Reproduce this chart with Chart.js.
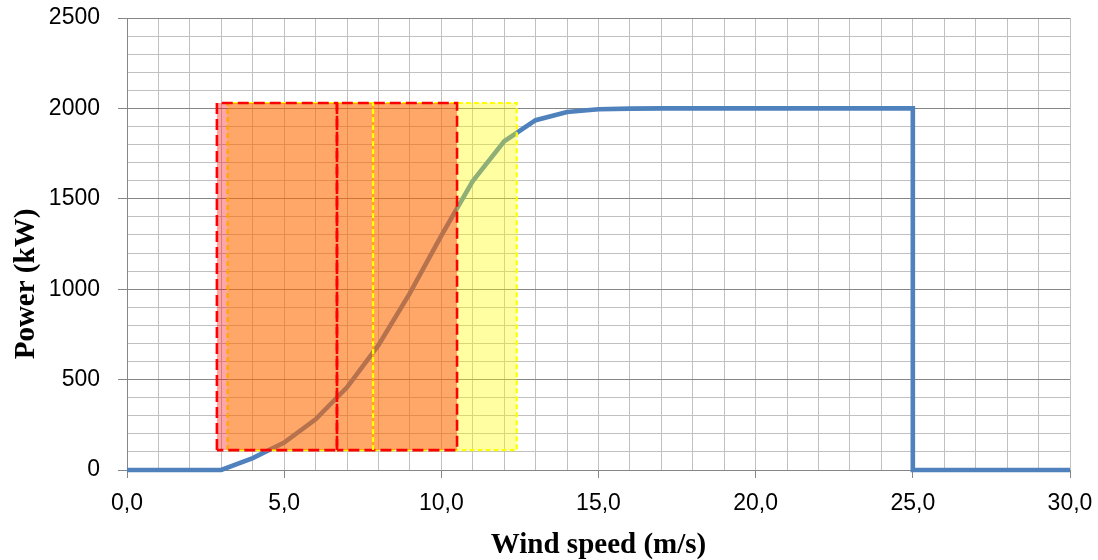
<!DOCTYPE html>
<html>
<head>
<meta charset="utf-8">
<script src="https://cdn.jsdelivr.net/npm/chart.js@4.4.1/dist/chart.umd.min.js"></script>
<style>
  html, body { margin: 0; padding: 0; background: #ffffff; }
  #wrap { width: 1098px; height: 560px; }
</style>
</head>
<body>
<div id="wrap"><canvas id="c" width="1098" height="560"></canvas></div>
<script>
// ---- data ----
const windSpeed = [0, 1, 2, 3, 4, 5, 6, 7, 8, 9, 10, 11, 12, 13, 14, 15, 16, 17, 18, 19, 20, 21, 22, 23, 24, 25, 25, 30];
const power     = [0, 0, 0, 0, 66, 152, 280, 457, 690, 978, 1296, 1598, 1818, 1935, 1980, 1995, 1999, 2000, 2000, 2000, 2000, 2000, 2000, 2000, 2000, 2000, 0, 0];

const redEdges    = [2.86, 6.68, 10.5];   // red dashed boxes (m/s)
const yellowEdges = [3.2, 7.83, 12.4];    // yellow dashed boxes (m/s)
const boxPower    = [110, 2030];          // bottom / top of boxes (kW)

const xTickLabels = ['0,0', '5,0', '10,0', '15,0', '20,0', '25,0', '30,0'];
const yTickLabels = ['0', '500', '1000', '1500', '2000', '2500'];
const xTitle = 'Wind speed (m/s)';
const yTitle = 'Power (kW)';

// ---- build datasets ----
function rect(x1, x2) {
  return [
    {x: x1, y: boxPower[0]}, {x: x1, y: boxPower[1]},
    {x: x2, y: boxPower[1]}, {x: x2, y: boxPower[0]},
    {x: x1, y: boxPower[0]}
  ];
}
const datasets = [];
datasets.push({
  label: 'Power curve',
  data: windSpeed.map((w, i) => ({x: w, y: power[i]})),
  borderColor: '#4f81bd', borderWidth: 4.6, pointRadius: 0, tension: 0,
  fill: false, showLine: true, order: 10, clip: false
});
for (let i = 0; i < yellowEdges.length - 1; i++) {
  datasets.push({
    label: 'yellow' + i,
    data: rect(yellowEdges[i], yellowEdges[i + 1]),
    borderColor: '#ffff00', borderWidth: 2.2, borderDash: [5, 3],
    backgroundColor: 'rgba(255,255,0,0.37)', fill: 'shape',
    pointRadius: 0, tension: 0, showLine: true, order: 8, clip: false
  });
}
for (let i = 0; i < redEdges.length - 1; i++) {
  datasets.push({
    label: 'red' + i,
    data: rect(redEdges[i], redEdges[i + 1]),
    borderColor: '#ff0000', borderWidth: 2.6, borderDash: [11, 5],
    backgroundColor: 'rgba(255,0,0,0.35)', fill: 'shape',
    pointRadius: 0, tension: 0, showLine: true, order: 5, clip: false
  });
}
// inner yellow dividers drawn on top
for (let i = 1; i < yellowEdges.length - 1; i++) {
  datasets.push({
    label: 'ydiv' + i,
    data: [{x: yellowEdges[i], y: boxPower[0]}, {x: yellowEdges[i], y: boxPower[1]}],
    borderColor: '#ffff00', borderWidth: 2.2, borderDash: [5, 3],
    fill: false, pointRadius: 0, showLine: true, order: 1, clip: false
  });
}

const DARK = '#868686', LIGHT = '#c0c0c0';
const fmtX = v => (v % 5 === 0) ? xTickLabels[v / 5] : '';
const fmtY = v => (v % 500 === 0) ? yTickLabels[v / 500] : '';

const yTitlePlugin = {
  id: 'yTitlePlugin',
  afterDraw(chart) {
    const c = chart.ctx;
    c.save();
    c.translate(34, 284);
    c.rotate(-Math.PI / 2);
    c.font = 'bold 29px "Liberation Serif"';
    c.textAlign = 'center';
    c.textBaseline = 'alphabetic';
    c.fillStyle = '#000000';
    c.fillText(yTitle, 0, 0);
    c.restore();
  }
};

new Chart(document.getElementById('c'), {
  type: 'scatter',
  data: { datasets },
  plugins: [yTitlePlugin],
  options: {
    responsive: false,
    animation: false,
    layout: { padding: { left: 0, right: 28, top: 18, bottom: 0 } },
    plugins: { legend: { display: false }, tooltip: { enabled: false } },
    scales: {
      x: {
        type: 'linear', min: 0, max: 30,
        afterFit: s => { s.height = 90; s.paddingLeft = 0; s.paddingRight = 0; },
        border: { display: true, color: DARK, width: 1 },
        grid: {
          color: LIGHT, lineWidth: 1, drawTicks: true, tickLength: 8,
          tickColor: c => (c.tick && c.tick.value % 5 === 0) ? DARK : 'rgba(0,0,0,0)'
        },
        ticks: {
          stepSize: 1, autoSkip: false, maxTicksLimit: 100, maxRotation: 0,
          padding: 12, color: '#000000',
          font: { family: '"Liberation Sans"', size: 23 },
          callback: fmtX
        },
        title: {
          display: true, text: xTitle, color: '#000000',
          font: { family: '"Liberation Serif"', size: 29, weight: 'bold', lineHeight: 1 },
          padding: { top: 0, bottom: 0 }
        }
      },
      y: {
        type: 'linear', min: 0, max: 2500,
        afterFit: s => { s.width = 127; s.paddingTop = 0; s.paddingBottom = 0; },
        border: { display: true, color: DARK, width: 1 },
        grid: {
          color: c => (c.tick && c.tick.value % 500 === 0) ? DARK : LIGHT,
          lineWidth: 1, drawTicks: true, tickLength: 9,
          tickColor: c => (c.tick && c.tick.value % 500 === 0) ? DARK : 'rgba(0,0,0,0)'
        },
        ticks: {
          stepSize: 100, autoSkip: false, maxTicksLimit: 100,
          padding: 18, color: '#000000',
          font: { family: '"Liberation Sans"', size: 23 },
          callback: fmtY
        },
        title: { display: false }
      }
    }
  }
});
</script>
</body>
</html>
